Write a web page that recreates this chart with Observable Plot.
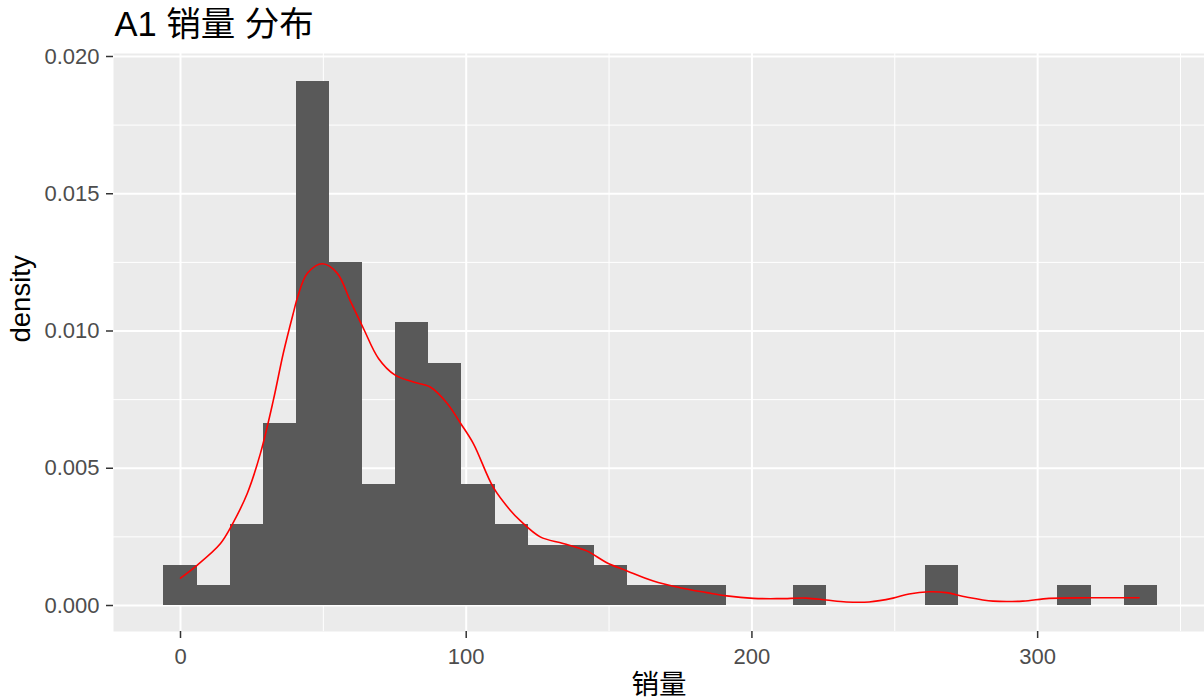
<!DOCTYPE html>
<html>
<head>
<meta charset="utf-8">
<script src="https://cdn.jsdelivr.net/npm/d3@7"></script>
<script src="https://cdn.jsdelivr.net/npm/@observablehq/plot@0.6"></script>
<style>
  html, body { margin: 0; padding: 0; background: #ffffff; }
  #chart svg { display: block; }
</style>
</head>
<body>
<div id="chart"></div>
<script>
// ---- data ----
const titleText = "A1 销量 分布";
const xLabel = "销量";
const yLabel = "density";

const binEdges = [-5.8, 5.8, 17.4, 29.0, 40.6, 52.1, 63.7, 75.3, 86.9, 98.5, 110.1,
  121.7, 133.3, 144.8, 156.4, 168.0, 179.6, 191.2, 202.8, 214.4, 226.0,
  237.6, 249.2, 260.7, 272.3, 283.9, 295.5, 307.1, 318.7, 330.3, 341.9];
const binDensity = [0.00147, 0.000735, 0.00294, 0.00662, 0.0191, 0.0125, 0.00441, 0.0103, 0.00882, 0.00441,
  0.00294, 0.0022, 0.0022, 0.00147, 0.000735, 0.000735, 0.000735, 0, 0, 0.000735,
  0, 0, 0, 0.00147, 0, 0, 0, 0.000735, 0, 0.000735];

const densX = [0, 5, 14, 18.5, 23.4, 28, 32.5, 36, 39.5, 41, 44.4, 49.7, 54.9, 59.4, 64, 69.3, 75, 81.5, 87.4,
  93.3, 98, 102.5, 109.5, 115.4, 119, 125.9, 133.9, 142.2, 149.2, 156.3, 165.5, 174.8, 184.2, 191.2,
  200.5, 209.8, 219, 226, 233, 241, 249.4, 255, 262, 268, 275, 284.4, 294.8, 304, 318, 335.5];
const densY = [0.00100, 0.00140, 0.00226, 0.00303, 0.00409, 0.00555, 0.00748, 0.0092, 0.01066, 0.01124, 0.0121,
  0.01245, 0.0121, 0.0111, 0.0101, 0.0090, 0.0084, 0.00814, 0.00796, 0.00737, 0.00664, 0.0059, 0.0043,
  0.00347, 0.00308, 0.0025, 0.00226, 0.00199, 0.00156, 0.00126, 0.00089, 0.00065, 0.00047, 0.00035,
  0.00026, 0.00025, 0.00027, 0.0002, 0.00013, 0.00013, 0.00027, 0.00042, 0.0005, 0.00047, 0.00031,
  0.00016, 0.00016, 0.00026, 0.00028, 0.00028];

const xMajor = [0, 100, 200, 300];
const xMinor = [50, 150, 250, 350];
const yMajor = [0, 0.005, 0.010, 0.015, 0.020];
const yMinor = [0.0025, 0.0075, 0.0125, 0.0175];

// ---- tables built from the arrays ----
const bins = binDensity.map((d, i) => ({x1: binEdges[i], x2: binEdges[i + 1], y: d})).filter(b => b.y > 0);
const curve = densX.map((x, i) => ({x, y: densY[i]}));

const FONT = "'Liberation Sans', Arial, 'Noto Sans CJK SC', sans-serif";

const chart = Plot.plot({
  width: 1204,
  height: 700,
  marginLeft: 113,
  marginRight: 0,
  marginTop: 53,
  marginBottom: 69,
  style: {fontFamily: FONT, background: "#ffffff", overflow: "visible"},
  x: {domain: [-23.45, 358.4]},
  y: {domain: [-0.000947, 0.020109]},
  marks: [
    Plot.frame({fill: "#EBEBEB"}),
    Plot.gridX({ticks: xMinor, stroke: "#ffffff", strokeOpacity: 1, strokeWidth: 1}),
    Plot.gridY({ticks: yMinor, stroke: "#ffffff", strokeOpacity: 1, strokeWidth: 1}),
    Plot.gridX({ticks: xMajor, stroke: "#ffffff", strokeOpacity: 1, strokeWidth: 2}),
    Plot.gridY({ticks: yMajor, stroke: "#ffffff", strokeOpacity: 1, strokeWidth: 2}),
    Plot.rect(bins, {x1: "x1", x2: "x2", y1: 0, y2: "y", fill: "#595959", shapeRendering: "crispEdges"}),
    Plot.line(curve, {x: "x", y: "y", stroke: "#ff0000", strokeWidth: 1.6, curve: "catmull-rom"}),
    Plot.axisX({ticks: xMajor, tickSize: 7, tickPadding: 10, fontSize: 22, fill: "#4D4D4D",
      stroke: "#333333", strokeWidth: 1.5, label: null, tickFormat: d3.format("d")}),
    Plot.axisY({ticks: yMajor, tickSize: 7, tickPadding: 7, fontSize: 22, fill: "#4D4D4D",
      stroke: "#333333", strokeWidth: 1.5, label: null, tickFormat: d3.format(".3f")}),
    Plot.text([xLabel], {frameAnchor: "bottom", dy: 54, lineAnchor: "middle", fontSize: 27.5, fill: "#000000"}),
    Plot.text([yLabel], {frameAnchor: "left", dx: -92, rotate: -90, lineAnchor: "middle", fontSize: 27.5, fill: "#000000"}),
    Plot.text([titleText], {frameAnchor: "top-left", textAnchor: "start", lineAnchor: "bottom", dx: 1, dy: -18, fontSize: 34.5, fill: "#000000"})
  ]
});
document.getElementById("chart").appendChild(chart);
</script>
</body>
</html>
